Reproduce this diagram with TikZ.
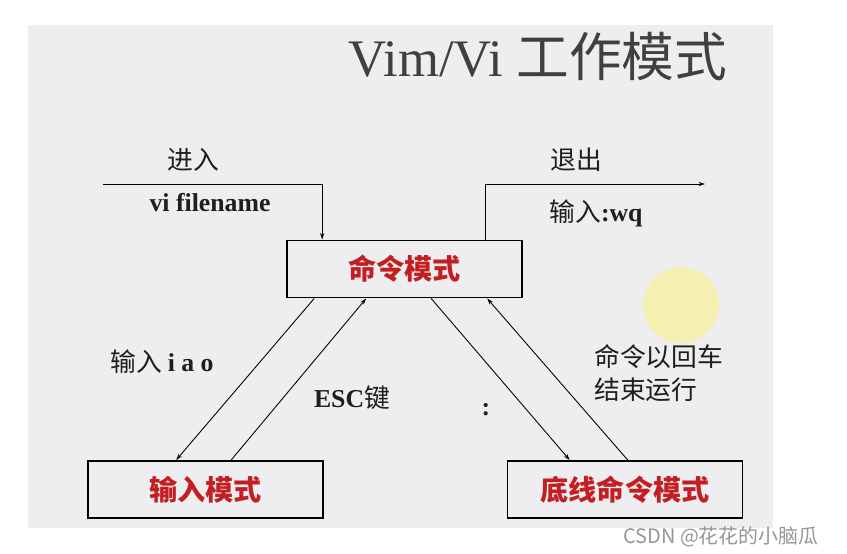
\documentclass[tikz,border=0pt]{standalone}
\usepackage{fontspec}
\setmainfont{Liberation Serif}
\newfontfamily\cjk{Noto Sans CJK SC}
\usetikzlibrary{arrows.meta, positioning, calc}
\definecolor{SlideGray}{RGB}{238,238,240}
\definecolor{ModeRed}{RGB}{196,30,34}
\definecolor{InkDark}{RGB}{30,30,30}
\definecolor{PointerYellow}{RGB}{245,240,178}
\definecolor{MarkGray}{RGB}{150,150,150}

\begin{document}
\begin{tikzpicture}[x=0.03cm, y=-0.03cm, >={Stealth[length=5.5pt, width=3.5pt]},
    mode/.style={draw=black, line width=1.4pt, fill=SlideGray, minimum width=7.05cm, minimum height=1.72cm, inner sep=0pt, font=\cjk\bfseries\fontsize{24}{28}\selectfont, text=ModeRed},
    lbl/.style={font=\cjk\fontsize{22}{28}\selectfont, text=InkDark, inner sep=0pt},
    flow/.style={->, line width=0.75pt, color=black}]
    % Page and slide backdrop
    \useasboundingbox (0,0) rectangle (847,553);
    \fill[white] (0,0) rectangle (847,553);
    \fill[SlideGray] (28,25) rectangle (773,528);
    \fill[PointerYellow] (681,305) circle (1.14cm);

    % Title
    \node[font=\fontsize{45}{50}\selectfont, text=InkDark!85] (title) at (538,57) {Vim/Vi {\cjk 工作模式}};

    % Mode boxes
    \node[mode] (cmd) at (404.5,269) {命令模式};
    \node[mode] (ins) at (205.5,489.5) {输入模式};
    \node[mode] (last) at (625,489.5) {底线命令模式};

    % Enter and quit
    \coordinate (enter) at (103,184);
    \coordinate (quit) at (705,184);
    \draw[flow] (enter) -| ([xshift=1.08cm]cmd.north west);
    \draw[flow] ([xshift=5.97cm]cmd.north west) |- (quit);
    \node[lbl] (enterlbl) at (193,160) {进入};
    \node[lbl, font=\bfseries\fontsize{22}{26}\selectfont] (entercmd) at (210,203) {vi filename};
    \node[lbl] (quitlbl) at (576,160) {退出};
    \node[lbl] (quitcmd) at (596,213) {输入{\rmfamily\bfseries :wq}};

    % Mode switches
    \draw[flow] ([xshift=0.84cm]cmd.south west) -- ([xshift=2.67cm]ins.north west);
    \draw[flow] ([xshift=4.32cm]ins.north west) -- ([xshift=2.4cm]cmd.south west);
    \draw[flow] ([xshift=4.35cm]cmd.south west) -- ([xshift=1.89cm]last.north west);
    \draw[flow] ([xshift=3.63cm]last.north west) -- ([xshift=6.03cm]cmd.south west);
    \node[lbl] (inskeys) at (162,362) {输入 {\rmfamily\bfseries i a o}};
    \node[lbl] (esckey) at (352,398) {{\rmfamily\bfseries ESC}键};
    \node[lbl, font=\bfseries\fontsize{22}{26}\selectfont] (colon) at (486,410) {:};
    \node[lbl, anchor=west, align=left] (runlbl) at (594,373) {命令以回车\\结束运行};

    % Watermark
    \node[font=\cjk\fontsize{17}{20}\selectfont, text=MarkGray] (mark) at (721,537) {CSDN @花花的小脑瓜};
\end{tikzpicture}
\end{document}
